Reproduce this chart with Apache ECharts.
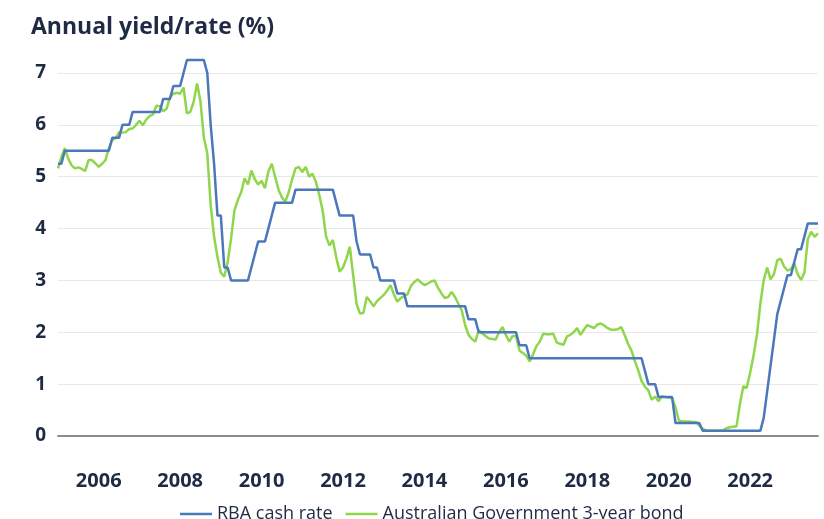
<!DOCTYPE html>
<html>
<head>
<meta charset="utf-8">
<script src="https://cdn.jsdelivr.net/npm/echarts@6/dist/echarts.min.js"></script>
<style>
  html, body { margin: 0; padding: 0; background: #fff; }
  #chart { width: 824px; height: 519px; }
</style>
</head>
<body>
<div id="chart"></div>
<script>
// monthly observations, Jan 2005 - Sep 2023
const startYear = 2005;
const monthCount = 225;

const rbaCashRate = [
  5.25, 5.25, 5.5, 5.5, 5.5, 5.5, 5.5, 5.5, 5.5, 5.5, 5.5, 5.5,          // 2005
  5.5, 5.5, 5.5, 5.5, 5.75, 5.75, 5.75, 6, 6, 6, 6.25, 6.25,             // 2006
  6.25, 6.25, 6.25, 6.25, 6.25, 6.25, 6.25, 6.5, 6.5, 6.5, 6.75, 6.75,   // 2007
  6.75, 7, 7.25, 7.25, 7.25, 7.25, 7.25, 7.25, 7, 6, 5.25, 4.25,         // 2008
  4.25, 3.25, 3.25, 3, 3, 3, 3, 3, 3, 3.25, 3.5, 3.75,                   // 2009
  3.75, 3.75, 4, 4.25, 4.5, 4.5, 4.5, 4.5, 4.5, 4.5, 4.75, 4.75,         // 2010
  4.75, 4.75, 4.75, 4.75, 4.75, 4.75, 4.75, 4.75, 4.75, 4.75, 4.5, 4.25, // 2011
  4.25, 4.25, 4.25, 4.25, 3.75, 3.5, 3.5, 3.5, 3.5, 3.25, 3.25, 3,       // 2012
  3, 3, 3, 3, 2.75, 2.75, 2.75, 2.5, 2.5, 2.5, 2.5, 2.5,                 // 2013
  2.5, 2.5, 2.5, 2.5, 2.5, 2.5, 2.5, 2.5, 2.5, 2.5, 2.5, 2.5,            // 2014
  2.5, 2.25, 2.25, 2.25, 2, 2, 2, 2, 2, 2, 2, 2,                         // 2015
  2, 2, 2, 2, 1.75, 1.75, 1.75, 1.5, 1.5, 1.5, 1.5, 1.5,                 // 2016
  1.5, 1.5, 1.5, 1.5, 1.5, 1.5, 1.5, 1.5, 1.5, 1.5, 1.5, 1.5,            // 2017
  1.5, 1.5, 1.5, 1.5, 1.5, 1.5, 1.5, 1.5, 1.5, 1.5, 1.5, 1.5,            // 2018
  1.5, 1.5, 1.5, 1.5, 1.5, 1.25, 1, 1, 1, 0.75, 0.75, 0.75,              // 2019
  0.75, 0.75, 0.25, 0.25, 0.25, 0.25, 0.25, 0.25, 0.25, 0.25, 0.1, 0.1,  // 2020
  0.1, 0.1, 0.1, 0.1, 0.1, 0.1, 0.1, 0.1, 0.1, 0.1, 0.1, 0.1,            // 2021
  0.1, 0.1, 0.1, 0.1, 0.35, 0.85, 1.35, 1.85, 2.35, 2.6, 2.85, 3.1,      // 2022
  3.1, 3.35, 3.6, 3.6, 3.85, 4.1, 4.1, 4.1, 4.1                          // 2023
];

const bond3yr = [
  5.16, 5.38, 5.55, 5.35, 5.22, 5.16, 5.18, 5.15, 5.11, 5.32, 5.32, 5.26, // 2005
  5.19, 5.25, 5.32, 5.55, 5.71, 5.74, 5.86, 5.85, 5.86, 5.92, 5.93, 6.0,  // 2006
  6.08, 5.99, 6.1, 6.17, 6.2, 6.37, 6.36, 6.26, 6.31, 6.53, 6.6, 6.62,    // 2007
  6.6, 6.72, 6.22, 6.25, 6.45, 6.8, 6.45, 5.75, 5.45, 4.45, 3.85, 3.45,   // 2008
  3.15, 3.07, 3.35, 3.8, 4.35, 4.55, 4.7, 4.97, 4.85, 5.12, 4.95, 4.85,   // 2009
  4.92, 4.78, 5.1, 5.25, 5.0, 4.75, 4.6, 4.52, 4.7, 4.95, 5.16, 5.19,     // 2010
  5.09, 5.19, 5.0, 5.06, 4.9, 4.65, 4.35, 3.85, 3.67, 3.78, 3.45, 3.17,   // 2011
  3.25, 3.42, 3.65, 3.1, 2.55, 2.36, 2.37, 2.68, 2.6, 2.5, 2.6, 2.66,     // 2012
  2.72, 2.8, 2.91, 2.73, 2.59, 2.66, 2.7, 2.73, 2.89, 2.97, 3.02, 2.96,   // 2013
  2.91, 2.94, 2.98, 3.0, 2.86, 2.75, 2.66, 2.68, 2.78, 2.68, 2.55, 2.42,  // 2014
  2.14, 1.95, 1.87, 1.82, 2.04, 1.98, 1.93, 1.88, 1.87, 1.86, 2.0, 2.1,   // 2015
  1.95, 1.82, 1.93, 1.93, 1.65, 1.6, 1.55, 1.44, 1.57, 1.73, 1.82, 1.97,  // 2016
  1.96, 1.96, 1.97, 1.8, 1.78, 1.76, 1.92, 1.95, 2.0, 2.08, 1.95, 2.05,   // 2017
  2.14, 2.11, 2.08, 2.15, 2.17, 2.13, 2.08, 2.05, 2.05, 2.06, 2.1, 1.95,  // 2018
  1.78, 1.65, 1.45, 1.27, 1.06, 0.95, 0.88, 0.7, 0.76, 0.67, 0.77, 0.75,  // 2019
  0.74, 0.73, 0.55, 0.3, 0.28, 0.28, 0.28, 0.27, 0.27, 0.2, 0.14, 0.11,   // 2020
  0.1, 0.1, 0.1, 0.1, 0.11, 0.15, 0.17, 0.18, 0.19, 0.62, 0.96, 0.93,     // 2021
  1.22, 1.55, 1.95, 2.55, 3.0, 3.25, 3.02, 3.12, 3.39, 3.42, 3.27, 3.19,  // 2022
  3.22, 3.33, 3.12, 3.01, 3.15, 3.8, 3.94, 3.84, 3.91                     // 2023
];

const seriesNames = ['RBA cash rate', 'Australian Government 3-year bond'];
const seriesColors = ['#4a78bb', '#8fd64b'];
const yTicks = [0, 1, 2, 3, 4, 5, 6, 7];

// month categories like "2005-01"
const months = [];
for (let i = 0; i < monthCount; i++) {
  const y = startYear + Math.floor(i / 12);
  const m = (i % 12) + 1;
  months.push(y + '-' + (m < 10 ? '0' + m : m));
}

const textColor = '#1f2a44';
const fontFamily = '"Open Sans", "Noto Sans", sans-serif';

const chart = echarts.init(document.getElementById('chart'));

chart.setOption({
  animation: false,
  color: seriesColors,
  title: {
    text: 'Annual yield/rate (%)',
    left: 26,
    top: 11,
    textStyle: { color: textColor, fontSize: 23, fontWeight: 'bold', fontFamily: fontFamily }
  },
  grid: { left: 58, right: 6, top: 73, bottom: 83 },
  legend: {
    left: 180,
    top: 505,
    padding: 0,
    icon: 'rect',
    itemWidth: 32,
    itemHeight: 2.5,
    itemGap: 13,
    textStyle: { color: textColor, fontSize: 18, fontWeight: 500, fontFamily: fontFamily },
    data: seriesNames
  },
  xAxis: {
    type: 'category',
    data: months,
    boundaryGap: false,
    axisLine: { show: true, lineStyle: { color: '#8c8c8c', width: 2 } },
    axisTick: { show: false },
    splitLine: { show: false },
    axisLabel: {
      interval: function (index, value) {
        return value.slice(5) === '01' && Number(value.slice(0, 4)) % 2 === 0;
      },
      formatter: function (value) { return value.slice(0, 4); },
      color: textColor,
      fontSize: 20,
      fontWeight: 'bold',
      fontFamily: fontFamily,
      margin: 35
    }
  },
  yAxis: {
    type: 'value',
    min: yTicks[0],
    max: yTicks[yTicks.length - 1],
    interval: 1,
    axisLine: { show: false },
    axisTick: { show: false },
    splitLine: { lineStyle: { color: '#e8e8e8', width: 1 } },
    axisLabel: {
      color: textColor,
      fontSize: 19,
      fontWeight: 'bold',
      fontFamily: fontFamily,
      margin: 12
    }
  },
  series: [
    {
      name: seriesNames[0],
      type: 'line',
      data: rbaCashRate,
      symbol: 'none',
      clip: false,
      z: 3,
      lineStyle: { width: 2.5, color: seriesColors[0] }
    },
    {
      name: seriesNames[1],
      type: 'line',
      data: bond3yr,
      symbol: 'none',
      clip: false,
      z: 2,
      lineStyle: { width: 2.5, color: seriesColors[1] }
    }
  ]
});
</script>
</body>
</html>
